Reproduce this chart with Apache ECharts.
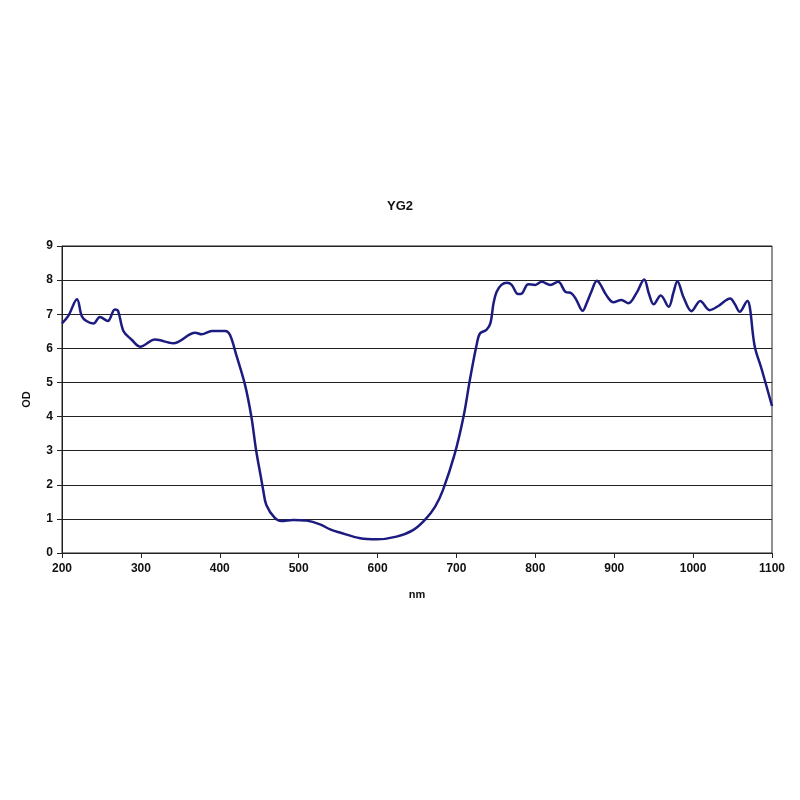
<!DOCTYPE html>
<html>
<head>
<meta charset="utf-8">
<script src="https://cdn.jsdelivr.net/npm/echarts@6/dist/echarts.min.js"></script>
<style>html,body{margin:0;padding:0;background:#fff;}#c{width:800px;height:800px;}</style>
</head>
<body>
<div id="c"></div>
<script>
const title = 'YG2';
const xName = 'nm';
const yName = 'OD';
const wavelength = [200,208,219,225,231,240,248,258,267,271,278,288,299,318,341,369,377,390,407,413,421,432,440,446,452,455,459,470,478,493,510,527,540,552,578,599,624,645,660,673,683,698,709,717,726,730,738,743,747,751,757,764,770,778,783,791,800,808,819,829,838,846,852,860,865,871,878,882,890,899,909,918,928,938,944,950,959,969,975,980,988,998,1009,1021,1032,1047,1053,1059,1069,1072,1078,1087,1100];
const od = [6.73,6.95,7.44,6.95,6.8,6.73,6.92,6.8,7.14,7.1,6.5,6.26,6.05,6.26,6.15,6.46,6.41,6.51,6.51,6.39,5.8,4.93,4.0,3.02,2.24,1.85,1.41,1.02,0.94,0.97,0.95,0.84,0.69,0.6,0.43,0.40,0.48,0.67,0.97,1.36,1.85,2.92,4.0,5.07,6.15,6.44,6.54,6.73,7.32,7.66,7.86,7.92,7.86,7.59,7.61,7.88,7.86,7.95,7.86,7.95,7.66,7.61,7.42,7.1,7.32,7.66,7.98,7.89,7.56,7.35,7.42,7.32,7.61,8.02,7.6,7.29,7.55,7.22,7.63,7.97,7.49,7.09,7.39,7.12,7.24,7.46,7.29,7.07,7.39,7.19,6.07,5.38,4.31];
const xTicks = [200,1100,100];
const yTicks = [0,9,1];

const chart = echarts.init(document.getElementById('c'));
const font = 'Liberation Sans, Arial, sans-serif';
chart.setOption({
  animation: false,
  backgroundColor: '#fff',
  title: {text: title, left: 'center', top: 195, textStyle: {fontFamily: font, fontSize: 13, fontWeight: 'bold', color: '#111'}},
  grid: {left: 62, right: 28, top: 246, bottom: 247, show: true, borderColor: '#222', borderWidth: 1},
  xAxis: {
    type: 'value', min: xTicks[0], max: xTicks[1], interval: xTicks[2],
    name: xName, nameLocation: 'middle', nameGap: 36,
    nameTextStyle: {fontFamily: font, fontSize: 11, fontWeight: 'bold', color: '#111'},
    axisLine: {show: true, lineStyle: {color: '#222', width: 1}},
    axisTick: {show: true, inside: false, length: 5, lineStyle: {color: '#222'}},
    axisLabel: {fontFamily: font, fontSize: 12, fontWeight: 'bold', color: '#111', margin: 10, formatter: v => String(v)},
    splitLine: {show: false}
  },
  yAxis: {
    type: 'value', min: yTicks[0], max: yTicks[1], interval: yTicks[2],
    name: yName, nameLocation: 'middle', nameGap: 30,
    nameTextStyle: {fontFamily: font, fontSize: 11, fontWeight: 'bold', color: '#111'},
    axisLine: {show: true, lineStyle: {color: '#222', width: 1}},
    axisTick: {show: true, inside: false, length: 5, lineStyle: {color: '#222'}},
    axisLabel: {fontFamily: font, fontSize: 12, fontWeight: 'bold', color: '#111', margin: 9},
    splitLine: {show: true, lineStyle: {color: '#222', width: 1}}
  },
  series: [{
    type: 'line',
    data: wavelength.map((w, i) => [w, od[i]]),
    smooth: 0.35,
    showSymbol: false,
    lineStyle: {color: '#1c1c80', width: 2.5}
  }]
});
</script>
</body>
</html>
